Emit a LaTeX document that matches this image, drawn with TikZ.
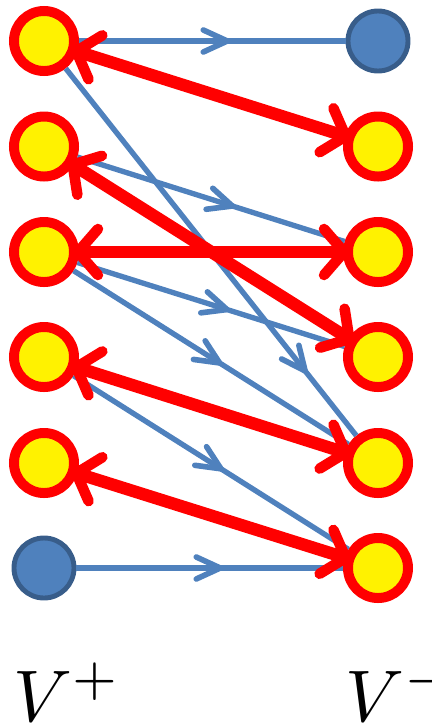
\documentclass[tikz,border=0pt]{standalone}
\usepackage{graphicx}
\usetikzlibrary{arrows.meta,decorations.markings}
\definecolor{edgeblue}{RGB}{79,129,189}
\definecolor{rimblue}{RGB}{56,93,138}
\newcommand{\biglabel}[1]{\scalebox{5.2}{$#1$}}
\tikzset{
	matched/.style={circle, draw=red, fill=yellow, line width=7.1pt, minimum size=1.5cm, inner sep=0pt},
	unmatched/.style={circle, draw=rimblue, fill=edgeblue, line width=3.5pt, minimum size=1.5cm, inner sep=0pt},
	redarc/.style={draw=red, line width=8.8pt, shorten >=-4.5pt, shorten <=-4.5pt, >={Straight Barb[length=0.5cm, width=1.15cm, line width=7.5pt 0, round]}, <->},
	bluearc/.style={draw=edgeblue, line width=3.8pt, postaction={decorate, decoration={markings, mark=at position #1 with {\arrow{Straight Barb[length=0.6cm, width=0.55cm, line width=4pt 0, round]}}}}},
	bluearc/.default=0.56,
	setlabel/.style={anchor=base west, inner sep=0pt}
}

\begin{document}
\begin{tikzpicture}[x=0.025cm, y=-0.025cm]
		%%%%% START %%%%%
		\useasboundingbox (0, 0) rectangle (432, 726);
		
		% left side V+
		\node[matched] (L1) at (44, 41) {};
		\node[matched] (L2) at (44, 146.5) {};
		\node[matched] (L3) at (44, 252) {};
		\node[matched] (L4) at (44, 357) {};
		\node[matched] (L5) at (44, 463) {};
		\node[unmatched] (L6) at (44, 568) {};
		
		% right side V-
		\node[unmatched] (R1) at (378, 41) {};
		\node[matched] (R2) at (378, 146.5) {};
		\node[matched] (R3) at (378, 252) {};
		\node[matched] (R4) at (378, 357) {};
		\node[matched] (R5) at (378, 463) {};
		\node[matched] (R6) at (378, 568) {};
		
		% blue edges
		\draw[bluearc=0.567] (L1) -- (R1);
		\draw[bluearc=0.83] (L1) -- (R5);
		\draw[bluearc=0.59] (L2) -- (R3);
		\draw[bluearc=0.57] (L3) -- (R4);
		\draw[bluearc=0.54] (L3) -- (R5);
		\draw[bluearc=0.545] (L4) -- (R6);
		\draw[bluearc=0.55] (L6) -- (R6);
		
		% red edges
		\draw[redarc] (L1) -- (R2);
		\draw[redarc] (L2) -- (R4);
		\draw[redarc] (L3) -- (R3);
		\draw[redarc] (L4) -- (R5);
		\draw[redarc] (L5) -- (R6);
		
		\node[setlabel] (vplus) at (13, 721) {\biglabel{V^+}};
		\node[setlabel] (vminus) at (345, 721) {\biglabel{V^-}};
		%%%%% END %%%%%
	\end{tikzpicture}
\end{document}
